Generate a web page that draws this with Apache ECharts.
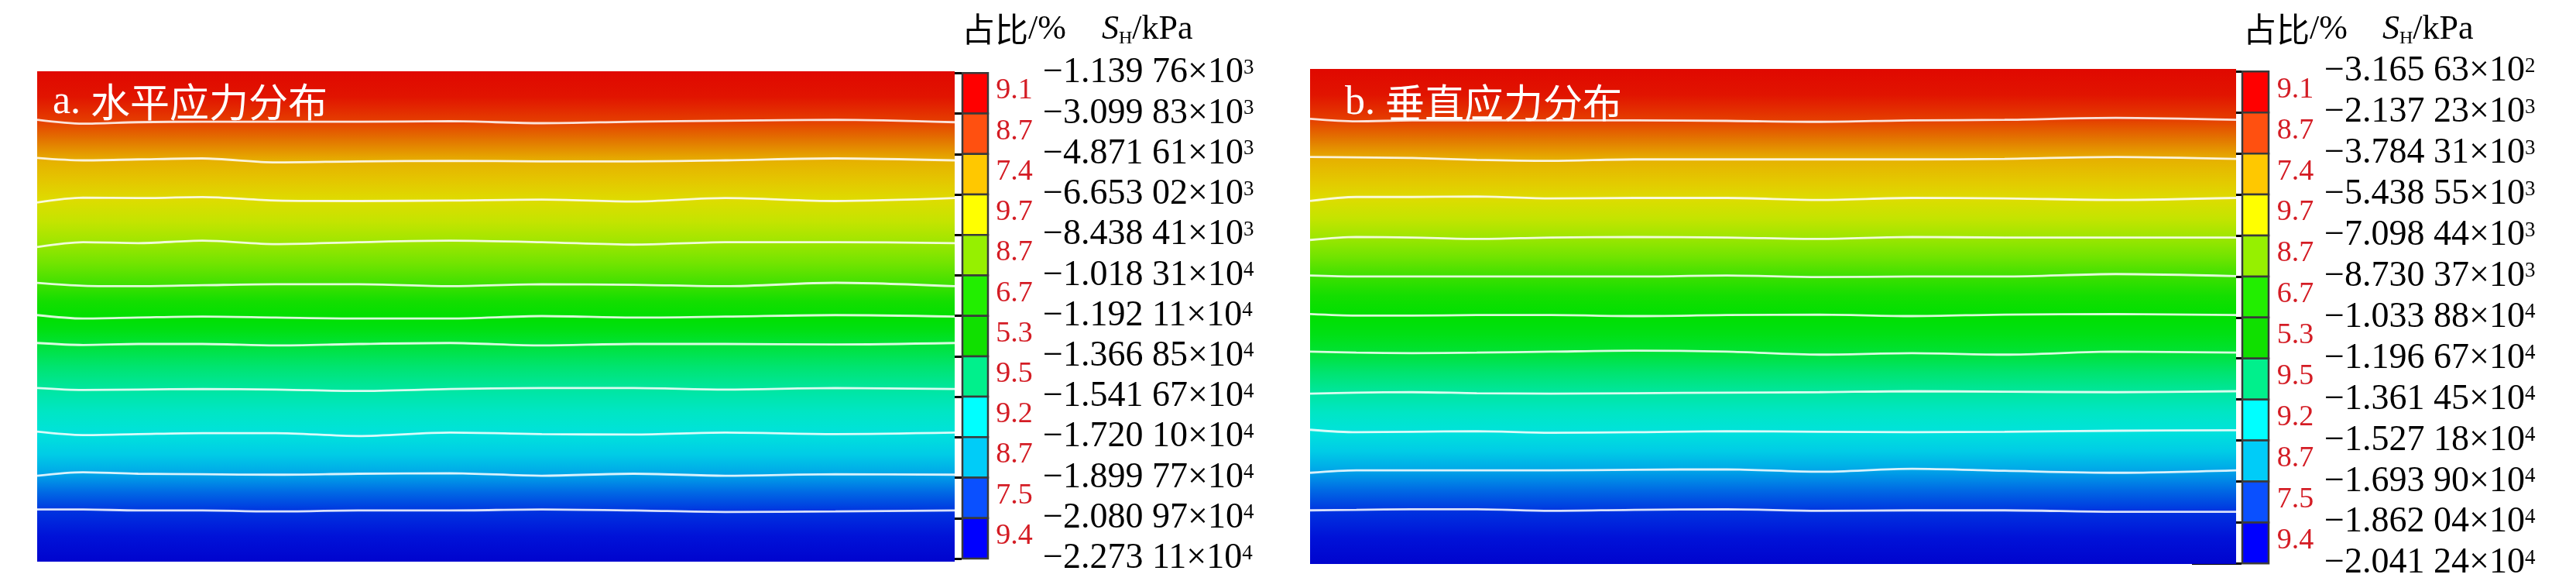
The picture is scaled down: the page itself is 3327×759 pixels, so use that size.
<!DOCTYPE html>
<html><head><meta charset="utf-8">
<script src="https://cdn.jsdelivr.net/npm/echarts@6/dist/echarts.min.js"></script>
<style>html,body{margin:0;padding:0;background:#fff}#c{width:3327px;height:759px}</style>
</head><body><div id="c"></div>
<script>
// ---------- data ----------
const panelTitles = ['a. 水平应力分布', 'b. 垂直应力分布'];
const headerShare = '占比/%';
const shareLabels = ['9.1','8.7','7.4','9.7','8.7','6.7','5.3','9.5','9.2','8.7','7.5','9.4'];
const stressTicksA = [-1139.76, -3099.83, -4871.61, -6653.02, -8438.41, -10183.1, -11921.1, -13668.5, -15416.7, -17201.0, -18997.7, -20809.7, -22731.1];
const stressTicksB = [-316.563, -2137.23, -3784.31, -5438.55, -7098.44, -8730.37, -10338.8, -11966.7, -13614.5, -15271.8, -16939.0, -18620.4, -20412.4];
const contourX = [0, 5, 11, 18, 26, 35, 45, 55, 65, 75, 87, 100];
const contourDepthA = [
  [9.9,10.7,10.4,10.3,10.3,10.3,10.2,10.6,10.3,10.1,9.9,10.4],
  [17.7,18.2,18.0,17.8,18.6,18.4,18.3,18.4,18.4,18.2,17.8,18.2],
  [26.8,25.8,25.9,25.7,26.4,26.5,26.4,26.2,26.6,25.9,26.5,25.9],
  [35.9,34.9,35.1,34.6,35.3,34.9,34.6,34.9,35.4,34.9,34.9,35.1],
  [43.2,43.8,43.9,43.7,43.5,43.5,43.9,43.5,43.6,43.9,43.2,43.9],
  [49.8,50.5,50.3,50.1,50.3,50.5,50.5,50.0,50.3,50.1,49.8,50.1],
  [55.5,55.9,55.7,55.7,56.0,55.7,55.5,56.0,55.7,55.7,55.8,55.5],
  [64.7,65.1,65.0,64.9,65.0,65.3,64.9,64.7,64.7,65.0,64.7,64.9],
  [73.6,74.3,74.1,73.9,73.9,74.5,73.8,74.1,74.2,73.8,74.1,73.8],
  [82.6,81.9,82.2,82.3,82.4,82.2,82.1,82.6,82.2,82.6,82.3,82.4],
  [89.5,89.5,89.7,89.7,89.9,89.7,89.7,89.5,89.7,90.0,89.9,89.7]
];
const contourDepthB = [
  [10.1,10.6,10.4,10.4,10.4,10.4,10.5,10.7,10.4,10.3,9.9,10.3],
  [17.8,17.9,18.0,18.4,18.6,18.3,18.3,18.3,18.3,18.2,17.8,18.2],
  [26.7,25.9,25.9,25.8,26.2,26.1,26.1,26.5,26.1,26.2,26.5,26.1],
  [34.6,34.0,34.1,34.4,34.1,34.0,34.1,34.4,34.0,34.1,34.1,34.1],
  [41.8,42.0,42.0,42.0,42.0,42.0,41.8,42.1,42.0,42.0,41.5,41.9],
  [49.6,49.9,49.9,49.8,49.8,50.0,49.8,49.7,50.0,49.7,49.6,49.8],
  [57.2,57.4,57.5,57.4,57.2,57.0,57.2,57.8,57.5,57.8,57.2,57.4],
  [65.7,65.5,65.4,65.6,65.7,65.6,65.5,65.4,65.2,65.3,65.4,65.2],
  [73.0,73.5,73.4,73.3,73.6,73.5,73.3,73.4,73.5,73.4,73.2,73.1],
  [81.7,81.2,81.2,81.2,81.2,81.1,81.0,81.5,80.9,81.3,81.7,81.2],
  [89.3,89.2,89.1,89.1,89.4,89.2,89.1,89.4,89.3,89.3,89.6,89.6]
];

// ---------- styles ----------
const bandColors = ['#ff0000','#ff5010','#ffc800','#ffff00','#96f000','#22ee00','#10e000','#00f08c','#00ffff','#00ccf8','#0a50ff','#0000ff'];
const fieldColors = ['#e00800','#e11400','#e54000','#e37800','#e6b000','#e4c600','#dedc00','#c4e400','#9ce600','#70e400',
  '#3ce000','#14de00','#00e000','#00e014','#00e236','#00e470','#00e6a0','#00e6c4','#00e2dc','#00cce6',
  '#00a4e8','#0068e4','#0034e0','#0012d8','#0004ce'];
const SERIF = '"Liberation Serif", "Times New Roman", serif';
const CJK = '"Noto Sans CJK SC", sans-serif';

function fmtTick(v) {
  const a = Math.abs(v);
  const e = Math.floor(Math.log10(a));
  const m = (a / Math.pow(10, e)).toFixed(5);
  return '{m|\u2212' + m.slice(0, 5) + ' ' + m.slice(5) + '\u00d710}{e|' + e + '}';
}
function mean(arr) { return arr.reduce((s, v) => s + v, 0) / arr.length; }
function bandData(depths) {
  const edges = [0].concat(depths.map(mean)).concat([100]);
  const out = [];
  for (let k = 0; k < edges.length - 1; k++) out.push([edges[k], edges[k + 1], k]);
  return out;
}
function fieldRender(params, api) {
  const k = api.value(2);
  const p0 = api.coord([0, api.value(0)]);
  const p1 = api.coord([100, api.value(1)]);
  return {
    type: 'rect',
    shape: { x: p0[0], y: p0[1], width: p1[0] - p0[0], height: p1[1] - p0[1] + 1 },
    style: { fill: new echarts.graphic.LinearGradient(0, 0, 0, 1, [
      { offset: 0, color: fieldColors[2 * k] },
      { offset: 0.5, color: fieldColors[2 * k + 1] },
      { offset: 1, color: fieldColors[2 * k + 2] }]) }
  };
}
function barRender(barW, pctX) {
  return function (params, api) {
    const k = api.value(1);
    const cs = params.coordSys;
    const y0 = api.coord([0, k])[1];
    const y1 = api.coord([0, k + 1])[1];
    return { type: 'group', children: [
      { type: 'rect', shape: { x: cs.x + 1, y: y0, width: barW - 1, height: y1 - y0 },
        style: { fill: bandColors[k], stroke: '#3a3a3a', lineWidth: 2.5 } },
      { type: 'text', style: { x: cs.x + pctX, y: (y0 + y1) / 2 - 3, text: shareLabels[k],
        fill: '#d41c24', font: '38px ' + SERIF, align: 'center', verticalAlign: 'middle' } }
    ] };
  };
}
const barDataRows = shareLabels.map((p, k) => [0, k, Number(p)]);

const tickRich = {
  m: { fontSize: 46, fontFamily: SERIF, fontWeight: 'normal', color: '#000', lineHeight: 46, verticalAlign: 'middle' },
  e: { fontSize: 27, fontFamily: SERIF, fontWeight: 'normal', color: '#000', lineHeight: 27, verticalAlign: 'top', padding: [3, 0, 0, 0] }
};
function cbarYAxis(gi, ticks, margin) {
  return { gridIndex: gi, type: 'value', min: 0, max: 12, interval: 1, inverse: true, position: 'right',
    axisLine: { show: false }, splitLine: { show: false },
    axisTick: { show: true, inside: true, length: 64, lineStyle: { color: '#000', width: 3 } },
    axisLabel: { show: true, margin: margin, formatter: (val) => fmtTick(ticks[Math.round(val)]), rich: tickRich } };
}
function contourSeries(xi, yi, depths) {
  return depths.map((line, i) => ({
    type: 'line', xAxisIndex: xi, yAxisIndex: yi, z: 3, symbol: 'none', smooth: 0.3, silent: true,
    lineStyle: { color: 'rgba(255,255,255,0.85)', width: 2.8 },
    data: contourX.map((x, j) => [x, line[j]])
  }));
}
const titleRich = {
  lat: { fontFamily: SERIF, fontSize: 52, fontWeight: 'normal', color: '#fff', lineHeight: 56, verticalAlign: 'middle' },
  cn: { fontFamily: CJK, fontSize: 51, fontWeight: 'normal', color: '#fff', lineHeight: 56, verticalAlign: 'middle' }
};
const headRich = {
  cn: { fontFamily: CJK, fontSize: 43, fontWeight: 'normal', color: '#000', lineHeight: 48, verticalAlign: 'middle' },
  lat: { fontFamily: SERIF, fontSize: 44, fontWeight: 'normal', color: '#000', lineHeight: 48, verticalAlign: 'middle' },
  s: { fontFamily: SERIF, fontSize: 44, fontWeight: 'normal', fontStyle: 'italic', color: '#000', lineHeight: 48, verticalAlign: 'middle' },
  sub: { fontFamily: SERIF, fontSize: 24, fontWeight: 'normal', color: '#000', lineHeight: 14, verticalAlign: 'bottom' }
};
function panelTitle(t, left, top) {
  return { text: '{lat|' + t.slice(0, 3) + '}{cn|' + t.slice(3) + '}', left, top, padding: 0,
    textStyle: { fontWeight: 'normal', rich: titleRich } };
}
function headTitles(left1, left2) {
  return [
    { text: '{cn|' + headerShare.slice(0, 2) + '}{lat|' + headerShare.slice(2) + '}', left: left1, top: 14, padding: 0,
      textStyle: { fontWeight: 'normal', rich: headRich } },
    { text: '{s|S}{sub|H}{lat|/kPa}', left: left2, top: 14, padding: 0,
      textStyle: { fontWeight: 'normal', rich: headRich } }
  ];
}

const chart = echarts.init(document.getElementById('c'), null, { renderer: 'canvas' });
chart.setOption({
  backgroundColor: '#fff',
  animation: false,
  title: [panelTitle(panelTitles[0], 68, 104), panelTitle(panelTitles[1], 1737, 105)]
    .concat(headTitles(1242, 1423)).concat(headTitles(2897, 3077)),
  grid: [
    { left: 48, top: 92, width: 1185, height: 632, containLabel: false, outerBoundsMode: 'none' },
    { left: 1242, top: 94.3, width: 98, height: 626.7, containLabel: false, outerBoundsMode: 'none' },
    { left: 1692, top: 89, width: 1196, height: 638, containLabel: false, outerBoundsMode: 'none' },
    { left: 2895, top: 92.3, width: 98, height: 635, containLabel: false, outerBoundsMode: 'none' }
  ],
  xAxis: [
    { gridIndex: 0, type: 'value', min: 0, max: 100, show: false },
    { gridIndex: 1, type: 'value', min: 0, max: 1, show: false },
    { gridIndex: 2, type: 'value', min: 0, max: 100, show: false },
    { gridIndex: 3, type: 'value', min: 0, max: 1, show: false }
  ],
  yAxis: [
    { gridIndex: 0, type: 'value', min: 0, max: 100, inverse: true, show: false },
    cbarYAxis(1, stressTicksA, 7),
    { gridIndex: 2, type: 'value', min: 0, max: 100, inverse: true, show: false },
    cbarYAxis(3, stressTicksB, 9)
  ],
  series: [
    { type: 'custom', xAxisIndex: 0, yAxisIndex: 0, z: 1, silent: true, renderItem: fieldRender, data: bandData(contourDepthA) },
    { type: 'custom', xAxisIndex: 2, yAxisIndex: 2, z: 1, silent: true, renderItem: fieldRender, data: bandData(contourDepthB) },
    { type: 'custom', xAxisIndex: 1, yAxisIndex: 1, z: 1, silent: true, clip: false, renderItem: barRender(34, 68), data: barDataRows },
    { type: 'custom', xAxisIndex: 3, yAxisIndex: 3, z: 1, silent: true, clip: false, renderItem: barRender(35, 69.5), data: barDataRows }
  ].concat(contourSeries(0, 0, contourDepthA)).concat(contourSeries(2, 2, contourDepthB))
});
</script></body></html>
